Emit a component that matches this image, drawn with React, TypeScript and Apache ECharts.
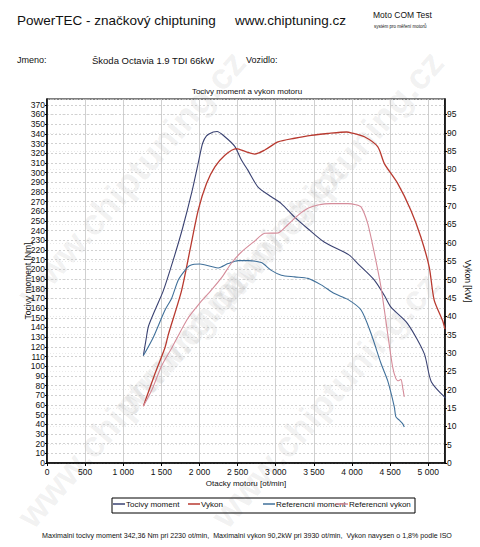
import React, { useEffect, useRef } from "react";
import * as echarts from "echarts";

// ---- data ----
const torqueRpm = [1264, 1300, 1330, 1417, 1526, 1657, 1780, 1900, 1984, 2040, 2092, 2180, 2230, 2333, 2463, 2550, 2638, 2768, 2942, 3073, 3248, 3422, 3640, 3960, 4076, 4294, 4425, 4511, 4729, 4948, 5040, 5230];
const torqueNm = [111, 128, 141, 158, 178, 210, 243, 280, 310, 330, 338, 342, 342.4, 337, 327, 313, 302, 285, 275, 268, 254, 242, 228, 215, 206, 189, 173, 161, 144, 113, 84, 67];

const powerRpm = [1264, 1417, 1548, 1591, 1765, 1875, 1984, 2092, 2202, 2333, 2484, 2615, 2725, 2856, 3030, 3248, 3465, 3683, 3930, 3988, 4163, 4337, 4425, 4599, 4772, 4903, 5013, 5078, 5187, 5220];
const powerKw = [15.5, 24.4, 31.5, 35, 47, 58, 69, 76.2, 80.7, 83.9, 85.7, 84.8, 84.2, 85.3, 87.5, 88.5, 89.3, 89.8, 90.2, 90.0, 88.9, 86.2, 81.6, 76.2, 68.9, 61.6, 53.4, 44.4, 38.9, 36.5];

const refTorqueRpm = [1264, 1395, 1548, 1634, 1722, 1810, 1875, 2006, 2157, 2245, 2376, 2507, 2638, 2811, 2942, 3073, 3248, 3422, 3596, 3771, 3945, 4119, 4249, 4380, 4468, 4555, 4576, 4621, 4664, 4686];
const refTorqueNm = [111, 130, 158, 170, 189, 199, 204, 205.5, 203, 201.5, 206, 209, 209, 207, 199, 194, 192.3, 190.7, 184, 175, 169, 158, 134, 103, 85, 58, 47.6, 44.2, 40.7, 37.2];

const refPowerRpm = [1264, 1373, 1504, 1640, 1850, 2000, 2130, 2290, 2420, 2550, 2725, 2856, 3030, 3161, 3291, 3422, 3553, 3726, 3945, 4050, 4119, 4206, 4294, 4380, 4468, 4533, 4576, 4610, 4642, 4664, 4686];
const refPowerKw = [15.5, 19.8, 26.5, 31.5, 39.5, 43.5, 46.5, 50.5, 54.5, 57.5, 60.5, 62.6, 62.7, 65, 67.5, 69.4, 70.3, 70.7, 70.7, 70.4, 69.8, 65.3, 57.1, 48.0, 35.3, 26.2, 23.0, 22.4, 22.8, 20.7, 18.0];

const seriesNames = ["Tocivy moment", "Vykon", "Referencni moment", "Referencni vykon"];
const seriesColors = ["#3a4272", "#b83a30", "#40709a", "#d58c9a"];

const chartTitle = "Tocivy moment a vykon motoru";
const xName = "Otacky motoru [ot/min]";
const yLeftName = "Tocivy moment [Nm]";
const yRightName = "Vykon [kW]";
const footer = "Maximalni tocivy moment 342,36 Nm pri 2230 ot/min,  Maximalni vykon 90,2kW pri 3930 ot/min,  Vykon navysen o 1,8% podle ISO";
const watermarkText = "www.chiptuning.cz";
const watermarkStarts = [[24, 300], [122, 410], [218, 522], [24, 522], [222, 300]];

const FONT = "'Liberation Sans', Arial, sans-serif";

function pairs(x: number[], y: number[]) {
  return x.map((v, i) => [v, y[i]]);
}

function txt(text: string, x: number, y: number, size: number, opts: any = {}) {
  return {
    type: "text",
    x,
    y,
    silent: true,
    z: 10,
    style: {
      text,
      font: `${opts.weight || "normal"} ${size}px ${FONT}`,
      fill: opts.fill || "#111",
      align: opts.align || "left",
      textAlign: opts.align || "left",
      verticalAlign: "middle",
      textVerticalAlign: "middle",
    },
  };
}

function watermarks() {
  return watermarkStarts.map(([x, y]) => ({
    type: "text",
    x,
    y,
    rotation: 0.85,
    silent: true,
    z: -5,
    style: {
      text: watermarkText,
      font: `bold 36px ${FONT}`,
      fill: "rgba(120,120,120,0.11)",
      verticalAlign: "middle",
      textVerticalAlign: "middle",
    },
  }));
}

export default function App() {
  const ref = useRef<HTMLDivElement>(null);

  useEffect(() => {
    document.body.style.margin = "0";
    const chart = echarts.init(ref.current!, null, { renderer: "svg" });

    const legendCommon = {
      top: 500,
      icon: "rect",
      itemWidth: 12,
      itemHeight: 1.5,
      padding: 0,
      itemGap: 0,
      textStyle: { fontSize: 8, color: "#111", fontFamily: FONT, padding: [0, 0, 0, -4] },
    };

    const option: any = {
      animation: false,
      backgroundColor: "#fff",
      textStyle: { fontFamily: FONT },
      grid: { left: 47, right: 33, top: 99, bottom: 84, show: true, borderColor: "#000", borderWidth: 1.2, backgroundColor: "transparent" },
      legend: [
        { ...legendCommon, data: [seriesNames[0]], left: 113 },
        { ...legendCommon, data: [seriesNames[1]], left: 188 },
        { ...legendCommon, data: [seriesNames[2]], left: 263 },
        { ...legendCommon, data: [seriesNames[3]], left: 336 },
      ],
      xAxis: {
        type: "value",
        min: 0,
        max: 5220,
        interval: 500,
        name: xName,
        nameLocation: "middle",
        nameGap: 16,
        nameMoveOverlap: false,
        nameTextStyle: { fontSize: 8, color: "#111" },
        axisLine: { lineStyle: { color: "#000", width: 1.5 } },
        axisTick: { show: true, length: 3, lineStyle: { color: "#000" } },
        axisLabel: {
          fontSize: 8.5,
          color: "#111",
          margin: 4,
          showMaxLabel: false,
          formatter: (v: number) => (v >= 1000 ? `${Math.floor(v / 1000)} ${String(v % 1000).padStart(3, "0")}` : String(v)),
        },
        splitLine: { show: true, lineStyle: { color: "#c4c4c4", width: 0.8 } },
      },
      yAxis: [
        {
          type: "value",
          min: 0,
          max: 376,
          interval: 10,
          name: yLeftName,
          nameLocation: "middle",
          nameGap: 15,
          nameMoveOverlap: false,
          nameTextStyle: { fontSize: 8.5, color: "#111" },
          axisLine: { show: true, lineStyle: { color: "#000", width: 1.5 } },
          axisTick: { show: true, length: 2, lineStyle: { color: "#000" } },
          axisLabel: { fontSize: 8.5, color: "#111", margin: 2, showMaxLabel: false },
          splitLine: { show: true, lineStyle: { color: "#bdbdbd", width: 0.7, type: [2, 2] } },
        },
        {
          type: "value",
          min: 0,
          max: 99.2,
          interval: 5,
          position: "right",
          name: yRightName,
          nameLocation: "middle",
          nameGap: 18,
          nameRotate: -90,
          nameMoveOverlap: false,
          nameTextStyle: { fontSize: 8.5, color: "#111" },
          axisLine: { show: true, lineStyle: { color: "#000", width: 1.5 } },
          axisTick: { show: true, length: 2, lineStyle: { color: "#000" } },
          axisLabel: { fontSize: 8.5, color: "#111", margin: 2, showMaxLabel: false },
          splitLine: { show: true, lineStyle: { color: "#dcdcdc", width: 0.6, type: [1, 2] } },
        },
      ],
      series: [
        { name: seriesNames[0], type: "line", yAxisIndex: 0, data: pairs(torqueRpm, torqueNm) },
        { name: seriesNames[1], type: "line", yAxisIndex: 1, data: pairs(powerRpm, powerKw) },
        { name: seriesNames[2], type: "line", yAxisIndex: 0, data: pairs(refTorqueRpm, refTorqueNm) },
        { name: seriesNames[3], type: "line", yAxisIndex: 1, data: pairs(refPowerRpm, refPowerKw) },
      ].map((s, i) => ({
        ...s,
        showSymbol: false,
        smooth: 0.25,
        z: 3,
        lineStyle: { color: seriesColors[i], width: i === 1 ? 1.3 : 1.1 },
        itemStyle: { color: seriesColors[i] },
      })),
      graphic: [
        ...watermarks(),
        txt("PowerTEC - značkový chiptuning", 17, 20, 13.5),
        txt("www.chiptuning.cz", 235, 20, 13.5),
        txt("Moto COM Test", 373, 15, 8.5),
        txt("systém pro měření motorů", 374, 26, 4.5),
        txt("Jmeno:", 17, 60, 9),
        txt("Škoda Octavia 1.9 TDI 66kW", 92, 60, 9.5),
        txt("Vozidlo:", 246, 60, 9),
        txt(chartTitle, 247, 91, 8, { align: "center" }),
        {
          type: "rect",
          silent: true,
          z: 10,
          shape: { x: 112, y: 498, width: 303, height: 15 },
          style: { fill: "none", stroke: "#000", lineWidth: 1 },
        },
        txt(footer, 247, 536, 7.1, { align: "center" }),
      ],
    };

    chart.setOption(option);
    return () => chart.dispose();
  }, []);

  return <div ref={ref} style={{ width: 480, height: 547, background: "#fff" }} />;
}
